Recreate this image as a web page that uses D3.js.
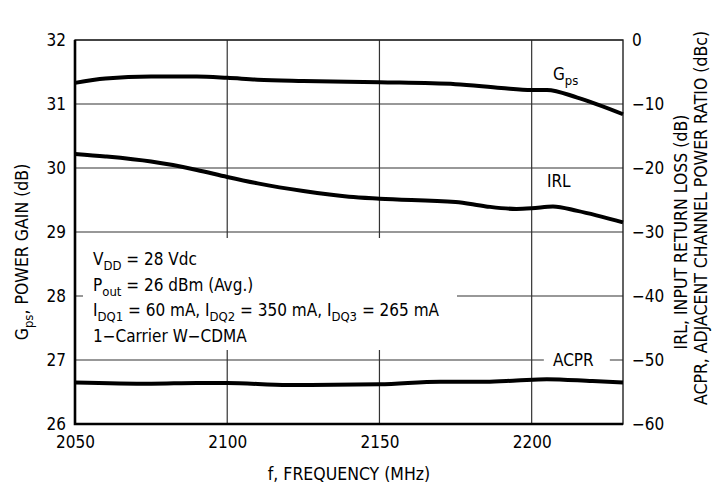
<!DOCTYPE html>
<html>
<head>
<meta charset="utf-8">
<script src="https://cdn.jsdelivr.net/npm/d3@7"></script>
<style>
  body { margin: 0; background: #fff; }
  svg { display: block; }
  text { font-family: "Liberation Sans Narrow", "DejaVu Sans Condensed", "Liberation Sans", sans-serif; fill: #000; }
</style>
</head>
<body>
<svg width="718" height="497"></svg>
<script>
// frequency axis (MHz)
const freqTicks = [2050, 2100, 2150, 2200];
const gainTicks = [26, 27, 28, 29, 30, 31, 32];
const dbTicks = [-60, -50, -40, -30, -20, -10, 0];

// Gps, power gain (dB) - left axis
const gpsFreq = [2050, 2060, 2075, 2090, 2100, 2110, 2125, 2150, 2175, 2190, 2200, 2205, 2215, 2230];
const gpsVals = [31.33, 31.40, 31.43, 31.43, 31.41, 31.38, 31.36, 31.34, 31.31, 31.25, 31.22, 31.22, 31.10, 30.84];

// IRL, input return loss (dB) - right axis
const irlFreq = [2050, 2060, 2075, 2090, 2100, 2110, 2125, 2140, 2150, 2175, 2185, 2195, 2200, 2207, 2215, 2230];
const irlVals = [-17.8, -18.2, -19.0, -20.3, -21.4, -22.4, -23.6, -24.5, -24.8, -25.3, -26.0, -26.4, -26.3, -26.0, -26.7, -28.5];

// ACPR (dBc) - right axis
const acprFreq = [2050, 2075, 2090, 2100, 2120, 2150, 2170, 2185, 2195, 2205, 2220, 2230];
const acprVals = [-53.5, -53.7, -53.6, -53.6, -53.9, -53.8, -53.4, -53.4, -53.2, -53.0, -53.3, -53.5];

const margin = {top: 40, right: 95, bottom: 73, left: 75},
    width = 718 - margin.left - margin.right,
    height = 497 - margin.top - margin.bottom;

const svg = d3.select("svg");
const g = svg.append("g")
    .attr("transform", `translate(${margin.left}, ${margin.top})`);

const x = d3.scaleLinear().domain([2050, 2230]).range([0, width]);
const yL = d3.scaleLinear().domain([26, 32]).range([height, 0]);
const yR = d3.scaleLinear().domain([-60, 0]).range([height, 0]);

// grid
g.selectAll(".hgrid")
    .data(gainTicks)
    .enter()
    .append("line")
    .attr("x1", 0).attr("x2", width)
    .attr("y1", d => yL(d)).attr("y2", d => yL(d))
    .attr("stroke", "#333").attr("stroke-width", 1.2);

g.selectAll(".vgrid")
    .data(freqTicks)
    .enter()
    .append("line")
    .attr("x1", d => x(d)).attr("x2", d => x(d))
    .attr("y1", 0).attr("y2", height)
    .attr("stroke", "#333").attr("stroke-width", 1.2);

// white box behind the conditions text
g.append("rect")
    .attr("x", 8).attr("y", 198)
    .attr("width", 374).attr("height", 112)
    .attr("fill", "#fff");

// frame
g.append("rect")
    .attr("width", width).attr("height", height)
    .attr("fill", "none").attr("stroke", "#222").attr("stroke-width", 1.4);
g.append("path")
    .attr("d", `M0,0V${height}H${width}`)
    .attr("fill", "none").attr("stroke", "#000").attr("stroke-width", 2.6);

// curves
const lineL = d3.line().x(d => x(d[0])).y(d => yL(d[1])).curve(d3.curveMonotoneX);
const lineR = d3.line().x(d => x(d[0])).y(d => yR(d[1])).curve(d3.curveMonotoneX);

g.append("path")
    .datum(d3.zip(gpsFreq, gpsVals))
    .attr("d", lineL)
    .attr("fill", "none").attr("stroke", "#000").attr("stroke-width", 4);

g.append("path")
    .datum(d3.zip(irlFreq, irlVals))
    .attr("d", lineR)
    .attr("fill", "none").attr("stroke", "#000").attr("stroke-width", 4);

g.append("path")
    .datum(d3.zip(acprFreq, acprVals))
    .attr("d", lineR)
    .attr("fill", "none").attr("stroke", "#000").attr("stroke-width", 4);

// axes (labels only)
const fs = "17px";
const xAxis = g.append("g")
    .attr("transform", `translate(0, ${height})`)
    .call(d3.axisBottom(x).tickValues(freqTicks).tickSize(0).tickPadding(12).tickFormat(d3.format("d")));
const yAxisL = g.append("g")
    .call(d3.axisLeft(yL).tickValues(gainTicks).tickSize(0).tickPadding(9).tickFormat(d3.format("d")));
const yAxisR = g.append("g")
    .attr("transform", `translate(${width}, 0)`)
    .call(d3.axisRight(yR).tickValues(dbTicks).tickSize(0).tickPadding(9).tickFormat(d => d < 0 ? "\u2212" + Math.abs(d) : d));
[xAxis, yAxisL, yAxisR].forEach(a => {
    a.select(".domain").remove();
    a.selectAll("text").attr("font-size", fs).attr("fill", "#000");
    a.attr("font-family", null);
});

// axis titles
const tfs = "17.5px";
g.append("text")
    .attr("x", width / 2).attr("y", height + 56)
    .attr("text-anchor", "middle").attr("font-size", tfs)
    .text("f, FREQUENCY (MHz)");

const leftTitle = g.append("text")
    .attr("transform", `translate(-47, 212) rotate(-90)`)
    .attr("text-anchor", "middle").attr("font-size", tfs);
leftTitle.append("tspan").text("G");
leftTitle.append("tspan").attr("font-size", "13px").attr("dy", 5).text("ps");
leftTitle.append("tspan").attr("dy", -5).text(",  POWER GAIN (dB)");

g.append("text")
    .attr("transform", `translate(${width + 64}, 192) rotate(-90)`)
    .attr("text-anchor", "middle").attr("font-size", tfs)
    .text("IRL,  INPUT RETURN LOSS (dB)");
g.append("text")
    .attr("transform", `translate(${width + 84}, 178) rotate(-90)`)
    .attr("text-anchor", "middle").attr("font-size", tfs)
    .text("ACPR, ADJACENT CHANNEL POWER RATIO (dBc)");

// series labels
const gpsLabel = g.append("text").attr("x", x(2207)).attr("y", 40).attr("font-size", fs);
gpsLabel.append("tspan").text("G");
gpsLabel.append("tspan").attr("font-size", "13px").attr("dy", 5).text("ps");

g.append("text").attr("x", x(2205)).attr("y", 147).attr("font-size", fs).text("IRL");

g.append("rect")
    .attr("x", x(2204)).attr("y", yR(-50) - 6)
    .attr("width", 66).attr("height", 12).attr("fill", "#fff");
g.append("text").attr("x", x(2207)).attr("y", yR(-50) + 6).attr("font-size", fs).text("ACPR");

// conditions text
const cond = [
    [["V", 0], ["DD", 1], [" = 28 Vdc", 0]],
    [["P", 0], ["out", 1], [" = 26 dBm (Avg.)", 0]],
    [["I", 0], ["DQ1", 1], [" = 60 mA, I", 0], ["DQ2", 1], [" = 350 mA, I", 0], ["DQ3", 1], [" = 265 mA", 0]],
    [["1\u2212Carrier W\u2212CDMA", 0]]
];
cond.forEach((parts, i) => {
    const t = g.append("text")
        .attr("x", 18).attr("y", 225 + i * 25.5)
        .attr("font-size", fs);
    let sub = 0;
    parts.forEach(([s, isSub]) => {
        const dy = isSub === sub ? 0 : (isSub ? 5 : -5);
        sub = isSub;
        t.append("tspan")
            .attr("dy", dy)
            .attr("font-size", isSub ? "13px" : fs)
            .text(s);
    });
});
</script>
</body>
</html>
